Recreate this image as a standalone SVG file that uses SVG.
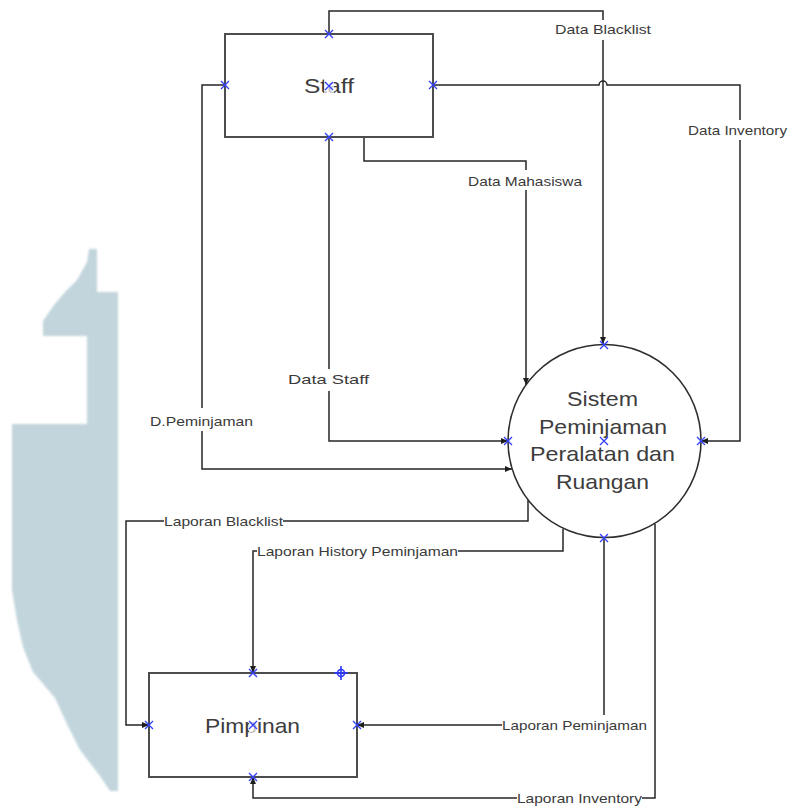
<svg xmlns="http://www.w3.org/2000/svg" width="792" height="810" viewBox="0 0 792 810">
  <style>
    .box { fill: #ffffff; stroke: #4d4d4d; stroke-width: 2; }
    .proc { fill: #ffffff; stroke: #2e2e2e; stroke-width: 1.6; }
    .flow { fill: none; stroke: #262626; stroke-width: 1.5; }
    .lbl { font-family: "Liberation Sans", Arial, sans-serif; font-size: 13.5px; fill: #3a3a3a; }
    .name { font-family: "Liberation Sans", Arial, sans-serif; font-size: 21px; fill: #3d3d3d; }
    .gap { fill: #ffffff; }
    .pt { stroke: #3440ff; stroke-width: 1.3; fill: none; }
    .veil { fill: #ffffff; opacity: 0.7; }
  </style>
  <defs>
    <marker id="arrow" viewBox="0 0 8 8" refX="8" refY="4" markerWidth="7" markerHeight="7" orient="auto" markerUnits="userSpaceOnUse">
      <path d="M0,0.6 L8,4 L0,7.4 z" fill="#1e1e1e"/>
    </marker>
    <path id="x" d="M-4,-4 L4,4 M-4,4 L4,-4"/>
    <filter id="soft" x="-10%" y="-10%" width="120%" height="120%">
      <feGaussianBlur stdDeviation="0.9"/>
    </filter>
  </defs>

  <rect width="792" height="810" fill="#ffffff"/>

  <!-- background emblem -->
  <polygon filter="url(#soft)" fill="#c2d5dc" points="89,249 97,249 97,292 118,292 118,791 110,791 100,776 80,750 67,724 55,698 33,672 23,647 17,620 12,590 12,424 87,424 87,336 43,336 43,321 54,305 65,292 77,280 87,262"/>

  <!-- connectors -->
  <g id="connectors">
    <path class="flow" d="M329,34 V11 H603 V344" marker-end="url(#arrow)"/>
    <path class="flow" d="M432,85 H599 A4,4 0 0 1 607,85 H740 V441 H701" marker-end="url(#arrow)"/>
    <path class="flow" d="M364,137 V161 H526 V385" marker-end="url(#arrow)"/>
    <path class="flow" d="M329,137 V441 H508" marker-end="url(#arrow)"/>
    <path class="flow" d="M225,85 H202 V469 H512" marker-end="url(#arrow)"/>
    <path class="flow" d="M528,500 V521 H126 V725 H149" marker-end="url(#arrow)"/>
    <path class="flow" d="M563,529 V551 H253 V673" marker-end="url(#arrow)"/>
    <path class="flow" d="M604,538 V725 H357" marker-end="url(#arrow)"/>
    <path class="flow" d="M655,524 V798 H253 V777" marker-end="url(#arrow)"/>

    <g id="lbl-blacklist">
      <rect class="gap" x="554" y="20" width="98" height="20"/>
      <text class="lbl" x="555" y="34" textLength="96" lengthAdjust="spacingAndGlyphs">Data Blacklist</text>
    </g>
    <g id="lbl-inventory">
      <rect class="gap" x="687" y="120" width="101" height="20"/>
      <text class="lbl" x="688" y="135" textLength="99" lengthAdjust="spacingAndGlyphs">Data Inventory</text>
    </g>
    <g id="lbl-mahasiswa">
      <rect class="gap" x="467" y="170" width="116" height="20"/>
      <text class="lbl" x="468" y="186" textLength="114" lengthAdjust="spacingAndGlyphs">Data Mahasiswa</text>
    </g>
    <g id="lbl-staff">
      <rect class="gap" x="287" y="369" width="83" height="22"/>
      <text class="lbl" x="288" y="384" textLength="81" lengthAdjust="spacingAndGlyphs">Data Staff</text>
    </g>
    <g id="lbl-peminjaman">
      <rect class="gap" x="149" y="408" width="105" height="23"/>
      <text class="lbl" x="150" y="426" textLength="103" lengthAdjust="spacingAndGlyphs">D.Peminjaman</text>
    </g>
    <g id="lbl-lap-blacklist">
      <rect class="gap" x="164" y="511" width="119" height="20"/>
      <text class="lbl" x="164" y="526" textLength="119" lengthAdjust="spacingAndGlyphs">Laporan Blacklist</text>
    </g>
    <g id="lbl-lap-history">
      <rect class="gap" x="257" y="541" width="201" height="20"/>
      <text class="lbl" x="257" y="556" textLength="201" lengthAdjust="spacingAndGlyphs">Laporan History Peminjaman</text>
    </g>
    <g id="lbl-lap-peminjaman">
      <rect class="gap" x="502" y="715" width="145" height="20"/>
      <text class="lbl" x="502" y="730" textLength="145" lengthAdjust="spacingAndGlyphs">Laporan Peminjaman</text>
    </g>
    <g id="lbl-lap-inventory">
      <rect class="gap" x="517" y="788" width="125" height="20"/>
      <text class="lbl" x="517" y="803" textLength="125" lengthAdjust="spacingAndGlyphs">Laporan Inventory</text>
    </g>
  </g>

  <!-- external entity: Staff -->
  <g id="staff">
    <rect class="box" x="225" y="34" width="208" height="103"/>
    <text class="name" x="304" y="93" textLength="50" lengthAdjust="spacingAndGlyphs">Staff</text>
    <rect class="veil" x="324" y="79" width="10" height="15"/>
    <g class="pt">
      <use href="#x" x="329" y="34"/>
      <use href="#x" x="225" y="85"/>
      <use href="#x" x="433" y="85"/>
      <use href="#x" x="329" y="137"/>
      <use href="#x" x="329" y="86"/>
    </g>
  </g>

  <!-- process: Sistem Peminjaman Peralatan dan Ruangan -->
  <g id="sistem">
    <circle class="proc" cx="604.5" cy="441" r="96.5"/>
    <text class="name" x="567" y="406" textLength="71" lengthAdjust="spacingAndGlyphs">Sistem</text>
    <text class="name" x="539" y="434" textLength="128" lengthAdjust="spacingAndGlyphs">Peminjaman</text>
    <text class="name" x="530" y="461" textLength="145" lengthAdjust="spacingAndGlyphs">Peralatan dan</text>
    <text class="name" x="556" y="489" textLength="93" lengthAdjust="spacingAndGlyphs">Ruangan</text>
    <g class="pt">
      <use href="#x" x="604" y="345"/>
      <use href="#x" x="508" y="441"/>
      <use href="#x" x="701" y="441"/>
      <use href="#x" x="604" y="538"/>
      <use href="#x" x="604" y="441"/>
    </g>
  </g>

  <!-- external entity: Pimpinan -->
  <g id="pimpinan">
    <rect class="box" x="149" y="673" width="208" height="104"/>
    <text class="name" x="205" y="733" textLength="95" lengthAdjust="spacingAndGlyphs">Pimpinan</text>
    <rect class="veil" x="249" y="718" width="8" height="15"/>
    <g class="pt">
      <use href="#x" x="253" y="673"/>
      <use href="#x" x="149" y="725"/>
      <use href="#x" x="357" y="725"/>
      <use href="#x" x="253" y="777"/>
      <use href="#x" x="253" y="725"/>
    </g>
    <g stroke="#2a36ff" stroke-width="1.6" fill="none">
      <circle cx="341" cy="673" r="3.5"/>
      <path d="M341,666 V680 M334,673 H348"/>
    </g>
  </g>
</svg>
